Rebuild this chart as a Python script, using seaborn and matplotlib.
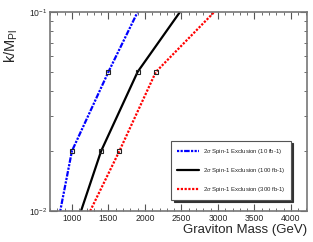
import seaborn as sns
import matplotlib.pyplot as plt
import matplotlib.ticker as ticker
import pandas as pd

# Exclusion curves: coupling k/M_Pl vs graviton mass (GeV)
coupling = [0.01, 0.02, 0.05, 0.1]
mass_10fb = [840, 1000, 1500, 1900]
mass_100fb = [1125, 1400, 1900, 2480]
mass_300fb = [1250, 1650, 2150, 2950]
labels = [r"2$\sigma$ Spin-1 Exclusion (10 fb-1)",
          r"2$\sigma$ Spin-1 Exclusion (100 fb-1)",
          r"2$\sigma$ Spin-1 Exclusion (300 fb-1)"]

sns.set_style("ticks")
plt.rcParams['font.family'] = ['Liberation Sans', 'DejaVu Sans']
plt.rcParams['mathtext.fontset'] = 'custom'
plt.rcParams['mathtext.rm'] = 'Liberation Sans'
plt.rcParams['mathtext.it'] = 'Liberation Sans:italic'

fig = plt.figure(figsize=(3.13, 2.42), dpi=100)
ax = fig.add_axes([50 / 313, 31 / 242, 257 / 313, 199 / 242])

styles = [
    dict(color="#0000ff", linestyle=(0, (1, 0.6, 1, 0.6, 2.5, 0.6))),
    dict(color="black", linestyle="-"),
    dict(color="#ff0000", linestyle=(0, (1, 0.7))),
]
for masses, lab, st in zip([mass_10fb, mass_100fb, mass_300fb], labels, styles):
    df = pd.DataFrame({"mass": masses, "k": coupling})
    sns.lineplot(data=df, x="mass", y="k", sort=False, ax=ax, lw=1.6,
                 label=lab, **st)
    ax.plot(df["mass"][1:3], df["k"][1:3], ls="none", marker="s", ms=2.2,
            mfc="none", mec="#222222", mew=0.8)

ax.set_yscale("log")
ax.set_xlim(700, 4220)
ax.set_ylim(0.01, 0.1)
ax.xaxis.set_major_locator(ticker.MultipleLocator(500))
ax.xaxis.set_minor_locator(ticker.MultipleLocator(100))
ax.yaxis.set_major_locator(ticker.LogLocator(base=10))
ax.yaxis.set_minor_locator(ticker.LogLocator(base=10, subs=range(2, 10)))
ax.yaxis.set_minor_formatter(ticker.NullFormatter())

ax.tick_params(which="both", direction="in", top=True, right=True,
               labelsize=6.2, pad=2, color="#555555")
ax.tick_params(which="major", length=5, width=0.8)
ax.tick_params(which="minor", length=2.5, width=0.6)
for sp in ax.spines.values():
    sp.set_color("#777777")
    sp.set_linewidth(1.2)

ax.set_xlabel("Graviton Mass (GeV)", fontsize=9.5, loc="right", labelpad=1)
ax.set_ylabel(r"k/M$_{\rm Pl}$", fontsize=10.5, labelpad=2)
ax.yaxis.set_label_coords(-0.115, 0.915)
ax.yaxis.label.set_horizontalalignment("right")

leg = ax.legend(loc="lower right", bbox_to_anchor=(0.95, 0.04), fontsize=4.3,
                frameon=True, fancybox=False,
                shadow={"ox": 1.5, "oy": -1.5, "color": "#333333", "alpha": 1},
                handlelength=3.6, borderpad=1.0, labelspacing=1.65,
                handletextpad=0.6)
leg.get_frame().set_edgecolor("#555555")
leg.get_frame().set_linewidth(0.8)

plt.savefig("out.png", dpi=100)
